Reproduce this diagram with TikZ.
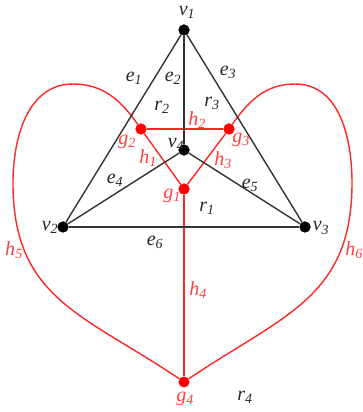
\documentclass[tikz,border=0pt]{standalone}
\usepackage{fontspec}
\setmainfont{Liberation Serif}
\newcommand\lb[2]{\textit{#1}\textsubscript{\textit{#2}}}
\begin{document}
\begin{tikzpicture}[x=1pt,y=1pt,
  edge/.style={draw=black!80,line width=1.4pt},
  redge/.style={draw=red!85,line width=1.4pt},
  vdot/.style={circle,fill=black,inner sep=0pt,minimum size=11pt},
  gdot/.style={circle,fill=red,inner sep=0pt,minimum size=11pt},
  lab/.style={font=\fontsize{20}{22}\selectfont,inner sep=0pt,text=black!85},
  rlab/.style={font=\fontsize{20}{22}\selectfont,inner sep=0pt,text=red!75}]
\useasboundingbox (0,0) rectangle (362,412);
% vertices
\node[vdot] (v1) at (184,382) {};
\node[vdot] (v2) at (63,185) {};
\node[vdot] (v3) at (305,185) {};
\node[vdot] (v4) at (184,262) {};
% dual vertices
\node[gdot] (g1) at (184,223) {};
\node[gdot] (g2) at (141,283) {};
\node[gdot] (g3) at (229,283) {};
\node[gdot] (g4) at (184,30) {};
\coordinate (tl) at (73,328);
\coordinate (ll) at (13,229);
\coordinate (tr) at (295,328);
\coordinate (rr) at (352,229);
% red dual edges
\draw[redge] (g2) -- (g3);
\draw[redge] (g2) -- (g1);
\draw[redge] (g3) -- (g1);
\draw[redge] (g1) -- (g4);
\draw[redge] (g2) to[out=125,in=0] (tl) to[out=180,in=90] (ll) to[out=-90,in=146,looseness=1.15] (g4);
\draw[redge] (g3) to[out=55,in=180] (tr) to[out=0,in=90] (rr) to[out=-90,in=34,looseness=1.15] (g4);
% black edges
\draw[edge] (v1) -- (v2);
\draw[edge] (v1) -- (v3);
\draw[edge] (v1) -- (v4);
\draw[edge] (v2) -- (v4);
\draw[edge] (v3) -- (v4);
\draw[edge] (v2) -- (v3);
\node[vdot] at (v1) {};
\node[vdot] at (v2) {};
\node[vdot] at (v3) {};
\node[vdot] at (v4) {};
\node[gdot] at (g1) {};
\node[gdot] at (g2) {};
\node[gdot] at (g3) {};
% labels
\node[lab] (lv1) at (187,400) {\lb{v}{1}};
\node[lab] (lv2) at (50,185) {\lb{v}{2}};
\node[lab] (lv3) at (321,184) {\lb{v}{3}};
\node[lab] (lv4) at (176,268) {\lb{v}{4}};
\node[lab] (le1) at (134,334) {\lb{e}{1}};
\node[lab] (le2) at (173,334) {\lb{e}{2}};
\node[lab] (le3) at (228,340) {\lb{e}{3}};
\node[lab] (le4) at (115,232) {\lb{e}{4}};
\node[lab] (le5) at (250,227) {\lb{e}{5}};
\node[lab] (le6) at (155,170) {\lb{e}{6}};
\node[lab] (lr1) at (207,204) {\lb{r}{1}};
\node[lab] (lr2) at (162,305) {\lb{r}{2}};
\node[lab] (lr3) at (212,309) {\lb{r}{3}};
\node[lab] (lr4) at (245,15) {\lb{r}{4}};
\node[rlab] (lg1) at (172,216) {\lb{g}{1}};
\node[rlab] (lg2) at (127,270) {\lb{g}{2}};
\node[rlab] (lg3) at (241,272) {\lb{g}{3}};
\node[rlab] (lg4) at (185,13) {\lb{g}{4}};
\node[rlab] (lh1) at (148,254) {\lb{h}{1}};
\node[rlab] (lh2) at (197,292) {\lb{h}{2}};
\node[rlab] (lh3) at (223,252) {\lb{h}{3}};
\node[rlab] (lh4) at (198,122) {\lb{h}{4}};
\node[rlab] (lh5) at (14,162) {\lb{h}{5}};
\node[rlab] (lh6) at (354,162) {\lb{h}{6}};
\end{tikzpicture}
\end{document}
